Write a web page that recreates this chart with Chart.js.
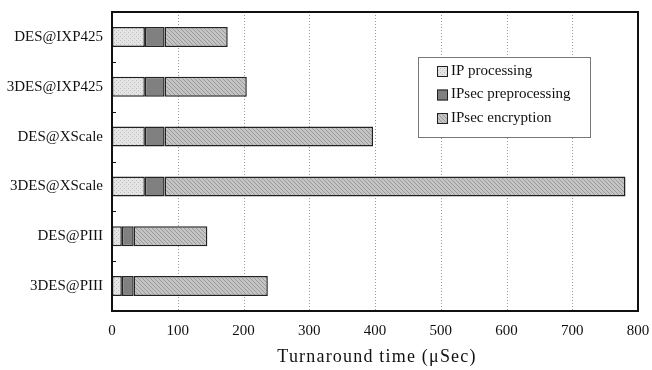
<!DOCTYPE html>
<html><head><meta charset="utf-8">
<script src="https://cdn.jsdelivr.net/npm/chart.js@4/dist/chart.umd.min.js"></script>
<style>html,body{margin:0;padding:0;background:#fff}#wrap{width:652px;height:370px}</style>
</head><body><div id="wrap"><canvas id="c" width="652" height="370"></canvas></div>
<script>
const categories = ["DES@IXP425","3DES@IXP425","DES@XScale","3DES@XScale","DES@PIII","3DES@PIII"];
const seriesNames = ["IP processing","IPsec preprocessing","IPsec encryption"];
const ipProcessing = [50, 50, 50, 50, 15, 15];
const ipsecPreprocessing = [30, 30, 30, 30, 18, 18];
const ipsecEncryption = [96, 125, 317, 701, 112, 204];
const xTicks = [0,100,200,300,400,500,600,700,800];
const xTitle = 'Turnaround time (μSec)';

function makePattern(bg, fg, kind){
  const c = document.createElement('canvas'); c.width = 4; c.height = 4;
  const g = c.getContext('2d');
  g.fillStyle = bg; g.fillRect(0,0,4,4);
  g.fillStyle = fg;
  if (kind === 'dots'){ g.fillRect(0,0,1,1); g.fillRect(2,2,1,1); }
  else if (kind === 'diag'){ g.fillRect(0,0,1,1); g.fillRect(1,1,1,1); g.fillRect(2,2,1,1); g.fillRect(3,3,1,1); }
  return document.getElementById('c').getContext('2d').createPattern(c,'repeat');
}
const fills = [
  makePattern('#e4e4e4','#bdbdbd','dots'),
  '#808080',
  makePattern('#c4c4c4','#9a9a9a','diag')
];

const serif = '"Liberation Serif", "DejaVu Serif", serif';

function zeroPad(s){ s.paddingLeft = 0; s.paddingRight = 0; s.paddingTop = 0; s.paddingBottom = 0; }

const framePlugin = {
  id:'frame',
  beforeDatasetsDraw(chart){
    const {ctx, chartArea:a} = chart;
    const x = chart.scales.x;
    ctx.save();
    ctx.strokeStyle = '#999'; ctx.lineWidth = 1; ctx.setLineDash([1,2]);
    xTicks.forEach(v=>{ if(v>0 && v<800){ const px = Math.round(x.getPixelForValue(v))+0.5; ctx.beginPath(); ctx.moveTo(px,a.top); ctx.lineTo(px,a.bottom); ctx.stroke(); }});
    ctx.restore();
  },
  afterDatasetsDraw(chart){
    const {ctx, chartArea:a} = chart;
    const y = chart.scales.y;
    ctx.save();
    ctx.strokeStyle = '#111'; ctx.lineWidth = 2;
    ctx.strokeRect(a.left, a.top, a.right-a.left, a.bottom-a.top);
    ctx.lineWidth = 1;
    for(let i=0;i<categories.length-1;i++){
      const py = Math.round((y.getPixelForValue(i)+y.getPixelForValue(i+1))/2)+0.5;
      ctx.beginPath(); ctx.moveTo(a.left, py); ctx.lineTo(a.left+4, py); ctx.stroke();
    }
    // legend
    const lx = 418, ly = 57, lw = 172, lh = 80;
    ctx.fillStyle = '#fff'; ctx.fillRect(lx,ly,lw,lh);
    ctx.strokeStyle = '#777'; ctx.lineWidth = 1;
    ctx.strokeRect(lx+0.5, ly+0.5, lw, lh);
    ctx.font = '15px ' + serif; ctx.textBaseline = 'middle'; ctx.textAlign = 'left';
    chart.data.datasets.forEach((ds,i)=>{
      const cy = 71 + i*23.5;
      ctx.fillStyle = ds.backgroundColor; ctx.fillRect(437, cy-5, 11, 11);
      ctx.strokeStyle = '#222'; ctx.lineWidth = 1; ctx.strokeRect(437.5, cy-4.5, 10, 10);
      ctx.fillStyle = '#111'; ctx.fillText(ds.label, 451, cy);
    });
    // axis title
    ctx.font = '18px ' + serif; ctx.textAlign = 'center'; ctx.textBaseline = 'middle';
    try { ctx.letterSpacing = '1.2px'; } catch(e) {}
    ctx.fillStyle = '#111';
    ctx.fillText(xTitle, (a.left + a.right)/2 + 2, 357);
    ctx.restore();
  }
};

new Chart(document.getElementById('c'), {
  type:'bar',
  data:{
    labels: categories,
    datasets:[
      {label:seriesNames[0], data:ipProcessing, backgroundColor:fills[0]},
      {label:seriesNames[1], data:ipsecPreprocessing, backgroundColor:fills[1]},
      {label:seriesNames[2], data:ipsecEncryption, backgroundColor:fills[2]}
    ].map(d=>Object.assign(d,{borderColor:'#222', borderWidth:1.5, borderSkipped:false, barPercentage:0.4, categoryPercentage:1}))
  },
  options:{
    indexAxis:'y', responsive:false, animation:false,
    layout:{padding:{top:12,right:14,left:0,bottom:0}},
    plugins:{legend:{display:false}, tooltip:{enabled:false}},
    scales:{
      x:{stacked:true, min:0, max:800,
        afterBuildTicks(s){ s.ticks = xTicks.map(v=>({value:v})); },
        afterFit(s){ s.height = 59; zeroPad(s); },
        grid:{display:false, drawTicks:false}, border:{display:false},
        ticks:{padding:11, color:'#111', font:{family:serif, size:15}},
        title:{display:false}
      },
      y:{stacked:true,
        afterFit(s){ s.width = 112; zeroPad(s); },
        grid:{display:false, drawTicks:false}, border:{display:false},
        ticks:{padding:9, color:'#111', font:{family:serif, size:15}}
      }
    }
  },
  plugins:[framePlugin]
});
</script></body></html>
